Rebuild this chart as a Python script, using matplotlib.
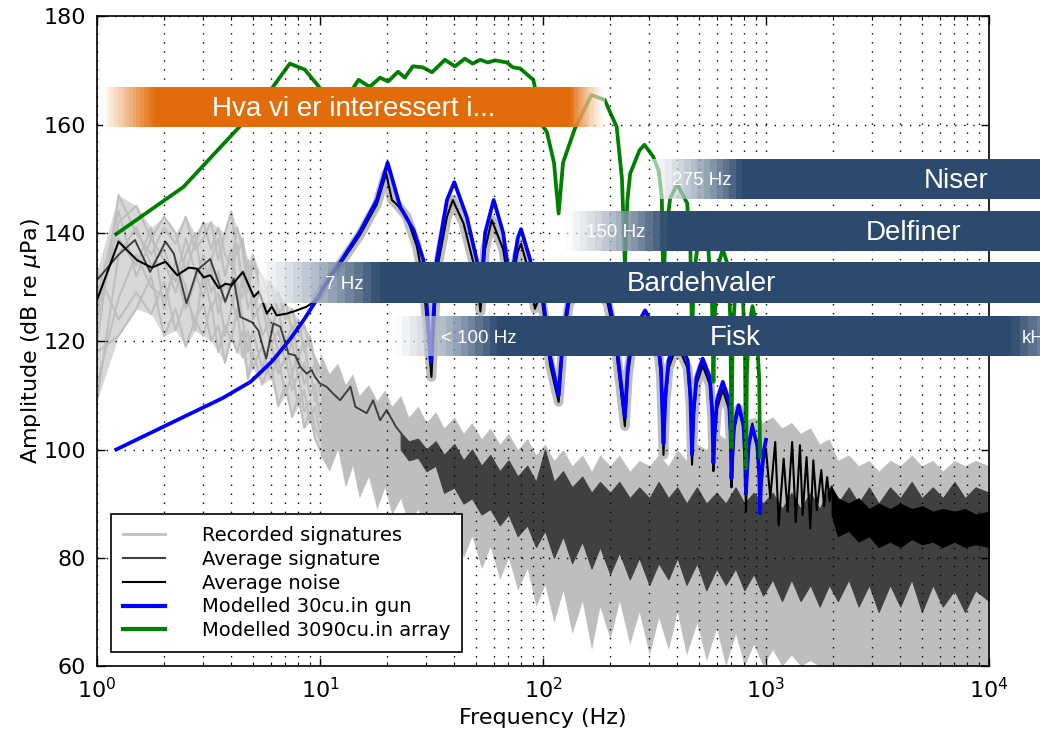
import numpy as np
import matplotlib
matplotlib.use("Agg")
import matplotlib.pyplot as plt
from matplotlib.lines import Line2D
from matplotlib.patches import Rectangle
from matplotlib.colors import to_rgb

# --- recorded signatures, low frequency part (individual shots) ---
rec_f = [1.0, 1.25, 1.5, 1.75, 2.0, 2.25, 2.5, 2.75, 3.0, 3.25, 3.5, 3.75, 4.0, 4.25,
         4.5, 4.75, 5.0, 5.5, 6.0, 6.5, 7.0, 7.5, 8.0, 8.5, 9.0, 9.5, 10.0]
rec_lines = [
    [120, 147, 140, 136, 141, 138, 143, 137, 139, 142, 135, 140, 144, 136, 139, 130, 136, 128, 131, 125, 127, 122, 124, 118, 121, 116, 114],
    [112, 128, 136, 130, 128, 133, 126, 131, 136, 129, 133, 127, 131, 138, 130, 134, 126, 130, 122, 126, 119, 123, 117, 120, 113, 116, 110],
    [128, 144, 132, 139, 135, 129, 136, 140, 130, 134, 125, 131, 128, 124, 133, 126, 129, 121, 124, 118, 121, 114, 118, 112, 115, 109, 108],
    [133, 124, 129, 125, 131, 122, 128, 124, 121, 127, 118, 123, 120, 126, 117, 122, 115, 119, 113, 117, 110, 114, 108, 111, 105, 108, 103],
    [124, 142, 145, 139, 143, 140, 133, 138, 142, 137, 141, 136, 134, 141, 137, 129, 134, 132, 127, 129, 124, 126, 121, 123, 119, 117, 115],
    [118, 121, 126, 132, 121, 126, 119, 124, 127, 120, 123, 116, 121, 118, 122, 113, 118, 112, 116, 108, 112, 106, 110, 104, 107, 102, 100],
    [109, 136, 141, 134, 137, 131, 139, 133, 128, 135, 139, 132, 137, 130, 128, 135, 124, 127, 119, 122, 116, 120, 113, 116, 110, 112, 106],
    [126, 139, 134, 141, 126, 135, 130, 122, 133, 126, 129, 121, 126, 131, 124, 118, 122, 115, 120, 114, 117, 111, 114, 107, 109, 104, 102],
]

# --- noise floor spread of the recordings ---
floor_f = [10, 11, 12, 13, 14, 15, 16.5, 18, 19.5, 21, 23, 25, 27.5, 30, 33, 36, 40, 44, 48, 53,
           58, 64, 70, 77, 85, 93, 102, 112, 123, 135, 150, 165, 180, 200, 220, 245, 270, 300,
           330, 365, 400, 440, 490, 540, 600, 660, 730, 800, 880, 970, 1070, 1180, 1300, 1430,
           1580, 1740, 1920, 2100, 2350, 2600, 2900, 3200, 3600, 4000, 4500, 5000, 5600, 6200,
           7000, 7800, 8700, 10000]
floor_hi = [118, 114, 116, 112, 114, 110, 112, 109, 111, 108, 110, 106, 108, 105, 107, 104, 106, 103,
            105, 102, 104, 101, 103, 100, 102, 99, 101, 98, 100, 97, 99, 96, 99, 97, 99, 96, 98, 97,
            99, 97, 100, 98, 101, 100, 103, 102, 105, 104, 106, 105, 106, 104, 105, 103, 104, 101,
            102, 98, 99, 97, 98, 96, 98, 97, 99, 97, 98, 96, 98, 97, 98, 97]
floor_lo = [99, 96, 100, 93, 97, 91, 95, 89, 93, 88, 91, 86, 89, 84, 88, 83, 86, 80, 84, 78, 82, 76,
            80, 74, 78, 71, 75, 68, 74, 66, 72, 63, 71, 65, 72, 64, 70, 62, 69, 63, 70, 62, 68, 61,
            67, 60, 66, 60, 64, 60, 63, 60, 62, 60, 61, 60, 60, 60, 60, 60, 60, 60, 60, 60, 60, 60,
            60, 60, 60, 60, 60, 60]

# --- average signature ---
sig_f = [1.0, 1.25, 1.48, 1.73, 2.03, 2.21, 2.52, 2.81, 3.22, 3.76, 4.1, 4.39, 4.96, 5.29, 5.74,
         6.18, 6.63, 7.22, 7.75, 8.14, 8.72, 9.17, 9.5, 10.0, 10.7, 11.4, 12.3, 13.7, 14.4, 16.2,
         17.3, 18.6, 19.9, 21.9, 24.5]
sig_db = [131.3, 136.0, 138.7, 132.8, 138.4, 136.2, 127.0, 133.1, 135.2, 127.3, 131.6, 124.5, 123.5,
          122.0, 116.8, 123.3, 122.7, 117.7, 117.4, 115.3, 114.0, 114.7, 113.4, 112.2, 111.6, 110.4,
          109.1, 111.6, 107.9, 106.7, 109.1, 105.4, 107.3, 104.2, 101.7]
sigband_f = floor_f[10:]
sigband_hi = [103, 101.5, 102, 100, 101.5, 99, 101, 98, 100, 97, 99, 96, 98, 95, 97, 94, 100, 94, 96, 93,
              95, 92, 94, 92, 94, 91, 93, 91, 94, 91, 93, 90, 93, 90, 92, 90, 93, 90, 92, 90,
              92, 89, 92, 89, 92, 89, 93, 90, 93, 90, 93, 90, 93, 91, 94, 91, 93, 91, 94, 91, 93, 92]
sigband_lo = [100, 98, 98.5, 96, 97, 92, 93, 90, 91, 88, 89, 86, 88, 84, 86, 82, 85, 80, 84, 79,
              83, 78, 82, 77, 81, 76, 80, 75, 79, 76, 80, 75, 79, 74, 78, 75, 78, 74, 77, 73,
              76, 72, 76, 72, 75, 71, 75, 72, 76, 71, 75, 70, 75, 71, 76, 70, 75, 71, 74, 70, 74, 72]

# --- average noise ---
avg_f = [1.0, 1.25, 1.51, 1.76, 2.03, 2.29, 2.58, 2.81, 3.01, 3.22, 3.51, 3.76, 4.03, 4.51, 5.05,
         5.32, 5.78, 6.08, 6.39, 7.1, 7.87, 8.72, 9.17, 9.8, 11.0, 12.2, 15.1, 18.0, 19.8, 21.0,
         22.2, 24.5, 27.2, 29.1, 31.6, 33.4, 37.1, 39.4, 44.0, 50.5, 52.4, 55.0, 58.9, 66.3, 71.3,
         77.0, 79.7, 87.7, 92.0, 98.0, 107.7, 117.5, 123, 131, 160, 195, 210, 233, 240, 252,
         287, 325, 338, 347, 354, 366, 400, 445, 458, 466, 473, 488, 520, 560, 574,
         581, 588, 603, 640, 682, 694, 700, 707, 720, 754, 792, 805, 813, 820, 836,
         868, 915, 933, 941, 950, 975, 1000, 1045, 1100, 1140, 1200, 1250, 1310, 1360, 1420,
         1460, 1520, 1580, 1630, 1690, 1770, 1820, 1880, 1930, 1970]
avg_db = [127.6, 138.4, 135.0, 133.6, 134.7, 132.2, 133.6, 133.4, 131.8, 132.2, 129.8, 130.6, 130.4,
          132.8, 128.2, 129.2, 125.1, 126.4, 124.8, 125.1, 125.7, 126.4, 127.0, 128.3, 131.5, 134.0,
          139.6, 145.3, 151.0, 146.1, 145.2, 143.0, 137.5, 131.0, 113.4, 133.0, 143.0, 146.1, 141.8,
          132.0, 125.5, 137.0, 142.4, 137.0, 128.5, 136.5, 138.0, 132.0, 126.0, 129.0, 115.5, 108.8,
          119.5, 127.0, 131.5, 127.0, 120.5, 104.3, 113.5, 120.0, 124.5, 120.0, 113.5, 99.0, 108.5,
          115.0, 119.5, 115.0, 108.5, 97.2, 105.5, 112.0, 115.5, 112.0, 105.5, 96.0, 101.5, 107.5,
          111.0, 107.5, 101.5, 93.0, 97.5, 103.5, 107.5, 104.0, 98.0, 88.5, 94.0, 100.5, 104.8,
          100.0, 94.0, 89.5, 93.0, 98.0, 100.0, 91.0, 101.4, 86.0, 98.3, 88.5, 101.4, 86.6, 100.8,
          87.9, 98.6, 85.4, 98.0, 88.8, 96.2, 89.5, 94.9, 90.5, 93.1]
avgband_f = [1970, 2100, 2350, 2600, 2900, 3200, 3600, 4000, 4500, 5000, 5600, 6200, 7000, 7800, 8700, 10000]
avgband_hi = [93, 91, 90, 91, 89, 90, 89, 90, 89, 89.5, 88.5, 89, 88.5, 89, 88, 88.5]
avgband_lo = [88, 84, 85, 83, 84, 82, 83, 82, 83.5, 82.5, 83, 82, 83, 82, 82.5, 82]

# --- modelled 30 cu.in gun ---
gun_f = [1.22, 2.44, 3.66, 4.88, 6.1, 7.32, 8.54, 9.77, 11.0, 12.2, 15.1, 18.0, 20.1, 22.9, 26.3,
         29.1, 31.4, 33.4, 37.1, 40.0, 45.5, 50.5, 52.4, 55.0, 60.1, 66.3, 71.3, 77.0, 79.7, 87.7,
         92.0, 98.0, 107.7, 117.5, 123, 131, 160, 195, 210, 233, 240, 252, 287, 325, 338,
         347, 354, 366, 400, 445, 458, 466, 473, 488, 520, 560, 574, 581, 588, 603,
         640, 682, 694, 700, 707, 720, 754, 792, 805, 813, 820, 836, 868, 915, 933,
         941, 950, 975, 1000]
gun_db = [100.0, 106.0, 109.5, 112.5, 116.3, 120.3, 124.2, 128.0, 131.7, 134.3, 140.2, 146.1, 153.0,
          144.8, 140.5, 135.0, 116.2, 135.0, 146.1, 149.4, 143.0, 135.0, 127.5, 140.0, 146.1, 140.0,
          130.0, 139.0, 140.7, 135.0, 127.5, 131.0, 117.1, 110.0, 121.0, 128.5, 133.0, 128.5, 122.0,
          106.0, 115.0, 121.5, 125.7, 121.5, 115.0, 101.1, 110.0, 116.5, 121.0, 116.5, 110.0, 99.0,
          107.0, 113.3, 116.8, 113.3, 107.0, 97.5, 103.0, 109.0, 112.5, 109.0, 103.0, 94.6, 99.0,
          104.7, 108.2, 104.7, 99.0, 91.9, 95.0, 100.7, 104.2, 100.7, 95.0, 88.2, 94.0, 99.5, 101.8]

# --- modelled 3090 cu.in array ---
arr_f = [1.22, 2.44, 3.66, 4.88, 6.1, 7.32, 8.54, 9.77, 11.0, 12.2, 13.4, 14.9, 16.7, 18.6, 20.2,
         22.4, 24.0, 26.1, 28.9, 31.8, 36.3, 40.3, 44.6, 48.4, 52.3, 56.6, 60.9, 68.9, 73.3, 79.0,
         90.5, 100.3, 104.0, 112.0, 117.5, 123.0, 139.0, 165.0, 189.0, 214.0, 226.0, 233.0, 239.0,
         246.0, 271.0, 285.0, 312.0, 330.0, 341.0, 347.0, 353.0, 372.0, 400.0, 443.0, 458.0, 466.0,
         474.0, 495.0, 520.0, 550.0, 572.0, 581.0, 590.0, 610.0, 640.0, 675.0, 692.0, 700.0, 708.0,
         725.0, 754.0, 788.0, 805.0, 813.0, 821.0, 840.0, 870.0, 905.0, 932.0, 941.0]
arr_db = [139.8, 148.5, 156.3, 161.8, 166.8, 171.3, 170.2, 167.3, 164.5, 163.5, 165.5, 168.3, 167.0,
          168.7, 168.0, 169.8, 168.7, 170.8, 170.6, 169.7, 172.0, 170.8, 172.2, 171.3, 172.0, 171.5,
          171.9, 171.5, 170.6, 170.4, 168.3, 159.6, 158.7, 153.0, 143.6, 153.0, 159.3, 165.5, 164.6,
          159.6, 150.0, 134.0, 146.0, 151.0, 155.3, 156.3, 154.1, 151.5, 146.5, 128.0, 139.0, 146.5,
          149.0, 145.5, 137.0, 120.0, 132.0, 138.0, 140.0, 137.5, 128.0, 112.5, 125.0, 134.0, 137.0,
          134.0, 124.0, 100.3, 120.0, 128.0, 131.0, 128.0, 118.0, 96.5, 114.0, 123.0, 126.5, 123.0,
          113.0, 98.6]

# --- hearing-range bands ---
band_names = ["Niser", "Delfiner", "Bardehvaler", "Fisk"]
band_ranges = ["275 Hz", "150 Hz", "7 Hz", "< 100 Hz"]
band_fade_hz = [309, 126, 5.3, 21.7]
band_solid_hz = [783, 361, 18.6, 62.3]
band_bottom = [146.3, 136.7, 127.1, 117.2]
band_top = [153.6, 144.05, 134.6, 124.6]
band_name_x = [7140, 4605, 516, 728]
band_range_x = [513, 211, 12.8, 51.7]

NAVY = "#2c4a6e"
ORANGE = "#e36c0a"


def fade_strip(ax, f0, f1, y0, y1, c0, c1, a0, a1, steps=14):
    edges = np.geomspace(f0, f1, steps + 1)
    c0, c1 = np.array(to_rgb(c0)), np.array(to_rgb(c1))
    for i in range(steps):
        t = (i + 0.5) / steps
        ax.add_patch(Rectangle((edges[i], y0), edges[i + 1] - edges[i], y1 - y0,
                               facecolor=tuple((1 - t) * c0 + t * c1), alpha=a0 + (a1 - a0) * t,
                               lw=0, antialiased=False, zorder=10, clip_on=False))


def solid_strip(ax, f0, f1, y0, y1, color):
    ax.add_patch(Rectangle((f0, y0), f1 - f0, y1 - y0, facecolor=color, lw=0,
                           zorder=10, clip_on=False))


fig = plt.figure(figsize=(10.4, 7.31), dpi=100)
ax = fig.add_axes([97 / 1040, 65 / 731, 892 / 1040, 649.5 / 731])
ax.set_xscale("log")
ax.set_xlim(1, 1e4)
ax.set_ylim(60, 180)

LIGHT = "#bebebe"
DARK = "#404040"

# recorded signatures
rec = np.array(rec_lines)
ax.fill_between(rec_f, rec.min(axis=0), rec.max(axis=0), color="#d8d8d8", lw=0, zorder=1)
for row in rec_lines:
    ax.plot(rec_f, row, color=LIGHT, lw=1.5, zorder=1.1)
ax.fill_between(floor_f, floor_lo, floor_hi, color=LIGHT, lw=0, zorder=1.1)
avg_f_arr = np.array(avg_f)
sel = avg_f_arr >= 9.5
ax.plot(avg_f_arr[sel], np.array(avg_db)[sel], color=LIGHT, lw=7, zorder=1.2,
        solid_joinstyle="round")

# average signature
ax.plot(sig_f, sig_db, color=DARK, lw=1.4, zorder=1.3)
ax.fill_between(sigband_f, sigband_lo, sigband_hi, color=DARK, lw=0.8, zorder=1.3)

# average noise
ax.plot(avg_f, avg_db, color="k", lw=1.5, zorder=1.5)
ax.fill_between(avgband_f, avgband_lo, avgband_hi, color="k", lw=0.8, zorder=1.5)

# models
ax.plot(gun_f, gun_db, color="#0000ff", lw=2.7, zorder=1.8)
ax.plot(arr_f, arr_db, color="#008000", lw=2.7, zorder=1.9)

# grid and ticks
ax.set_axisbelow(False)
ax.grid(True, which="major", color="k", lw=1.0, ls=(0, (1, 5.5)))
ax.grid(True, which="minor", axis="x", color="k", lw=1.0, ls=(0, (1, 5.5)))
ax.set_yticks([60, 80, 100, 120, 140, 160, 180])
ax.tick_params(which="both", direction="in", top=True, right=True, labelsize=16)
ax.tick_params(which="major", length=6, width=1, pad=8)
ax.tick_params(which="minor", length=3, width=0.8)
for sp in ax.spines.values():
    sp.set_linewidth(1.2)

ax.set_xlabel("Frequency (Hz)", fontsize=16)
ax.set_ylabel("Amplitude (dB re $\\mu$Pa)", fontsize=16, labelpad=0)

# orange headline band
fade_strip(ax, 1.064, 1.82, 159.6, 166.9, "white", ORANGE, 1.0, 1.0)
solid_strip(ax, 1.82, 132.5, 159.6, 166.9, ORANGE)
fade_strip(ax, 132.5, 190, 159.6, 166.9, ORANGE, "white", 1.0, 0.55)
ax.text(14.2, 163.0, "Hva vi er interessert i...", color="white", fontsize=20,
        family="Liberation Sans", ha="center", va="center", zorder=12)

# hearing bands
for name, rng, fa, so, lo, hi, nx, rx in zip(band_names, band_ranges, band_fade_hz, band_solid_hz,
                                             band_bottom, band_top, band_name_x, band_range_x):
    fade_strip(ax, fa, so, lo, hi, "white", NAVY, 0.6, 1.0)
    solid_strip(ax, so, 3e4, lo, hi, NAVY)
    mid = (lo + hi) / 2 - 0.3
    ax.text(nx, mid, name, color="white", fontsize=20, family="Liberation Sans",
            ha="center", va="center", zorder=12)
    ax.text(rx, mid, rng, color="white", fontsize=13.5, family="Liberation Sans",
            ha="center", va="center", zorder=12)

# upper end of the fish band, running off the slide
fade_strip(ax, 12600, 3e4, band_bottom[3], band_top[3], NAVY, "white", 1.0, 0.6, steps=10)
ax.text(13970, (band_bottom[3] + band_top[3]) / 2 - 0.3, "kHz", color="white", fontsize=13.5,
        family="Liberation Sans", ha="left", va="center", zorder=12)

handles = [
    Line2D([], [], color=LIGHT, lw=2),
    Line2D([], [], color=DARK, lw=1.5),
    Line2D([], [], color="k", lw=1.5),
    Line2D([], [], color="#0000ff", lw=3),
    Line2D([], [], color="#008000", lw=3),
]
labels = ["Recorded signatures", "Average signature", "Average noise",
          "Modelled 30cu.in gun", "Modelled 3090cu.in array"]
leg = ax.legend(handles, labels, loc="lower left", bbox_to_anchor=(0.0157, 0.0216),
                borderaxespad=0, fontsize=14, fancybox=False, framealpha=1,
                edgecolor="k", handlelength=2.2, handletextpad=1.9, labelspacing=0.25,
                borderpad=0.6)
leg.get_frame().set_linewidth(1.2)
leg.set_zorder(20)

fig.savefig("out.png", dpi=100)
